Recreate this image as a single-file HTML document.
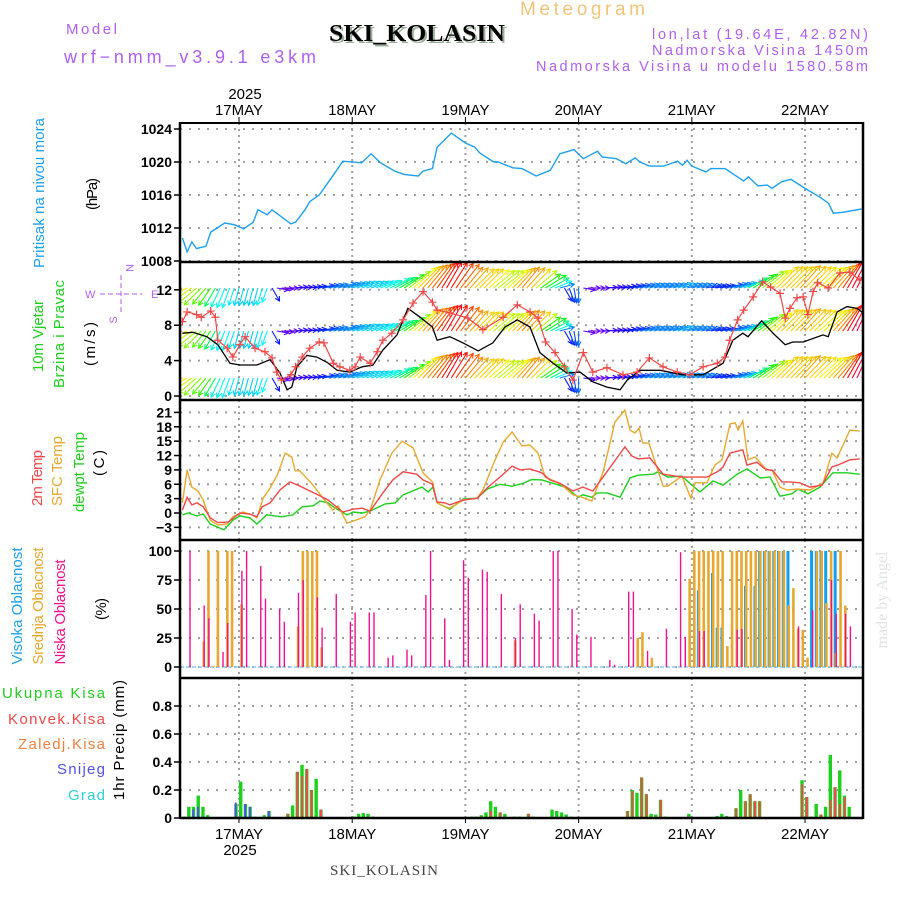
<!DOCTYPE html>
<html><head><meta charset="utf-8"><style>
html,body{margin:0;padding:0;background:#fff;}
svg{display:block;font-family:"Liberation Sans",sans-serif;}
</style></head><body>
<svg id="chart" width="900" height="900" viewBox="0 0 900 900" xmlns="http://www.w3.org/2000/svg">
<defs>
<clipPath id="cpP"><rect x="181" y="123" width="681" height="139"/></clipPath>
<clipPath id="cpW"><rect x="181" y="263" width="681" height="136"/></clipPath>
<clipPath id="cpT"><rect x="181" y="401" width="681" height="138"/></clipPath>
<clipPath id="cpC"><rect x="181" y="541" width="681" height="136"/></clipPath>
<clipPath id="cpR"><rect x="181" y="679" width="681" height="138"/></clipPath>
</defs>
<text x="520" y="15" font-size="19" fill="#f2c47a" textLength="125" lengthAdjust="spacing">Meteogram</text>
<text x="66" y="34" font-size="15" fill="#b060f0" textLength="51" lengthAdjust="spacing">Model</text>
<text x="64" y="63" font-size="18" fill="#b060f0" textLength="252" lengthAdjust="spacing">wrf−nmm_v3.9.1 e3km</text>
<text x="331" y="43" font-size="24" font-weight="bold" fill="#9ab09a" textLength="176" lengthAdjust="spacingAndGlyphs" font-family="Liberation Serif,serif">SKI_KOLASIN</text>
<text x="329" y="41" font-size="24" font-weight="bold" fill="#000" textLength="176" lengthAdjust="spacingAndGlyphs" font-family="Liberation Serif,serif">SKI_KOLASIN</text>
<text x="652" y="39" font-size="14.5" fill="#b060f0" textLength="216" lengthAdjust="spacing">lon,lat (19.64E, 42.82N)</text>
<text x="652" y="55" font-size="14.5" fill="#b060f0" textLength="216" lengthAdjust="spacing">Nadmorska Visina 1450m</text>
<text x="536" y="71" font-size="14.5" fill="#b060f0" textLength="332" lengthAdjust="spacing">Nadmorska Visina u modelu 1580.58m</text>
<text x="245" y="99" font-size="15" fill="#000" text-anchor="middle">2025</text>
<text x="240" y="855" font-size="15" fill="#000" text-anchor="middle">2025</text>
<text x="330" y="875" font-size="15" fill="#444" textLength="108" lengthAdjust="spacing" font-family="Liberation Serif,serif">SKI_KOLASIN</text>
<text transform="translate(887,600) rotate(-90)" font-size="16" fill="#dde5dd" text-anchor="middle" font-family="Liberation Serif,serif">made by Angel</text>
<g font-size="15" text-anchor="middle" lengthAdjust="spacing">
<text transform="translate(44,193) rotate(-90)" fill="#1ea0f0" textLength="150">Pritisak na nivou mora</text>
<text transform="translate(97,194) rotate(-90)" fill="#000" textLength="32">(hPa)</text>
<text transform="translate(43,336) rotate(-90)" fill="#1ed01e" textLength="72">10m Vjetar</text>
<text transform="translate(64,334) rotate(-90)" fill="#1ed01e" textLength="108">Brzina i Pravac</text>
<text transform="translate(95,344) rotate(-90)" fill="#000" textLength="44">(m/s)</text>
<text transform="translate(42,478) rotate(-90)" fill="#f04848" textLength="56">2m Temp</text>
<text transform="translate(62,471) rotate(-90)" fill="#e8a830" textLength="70">SFC Temp</text>
<text transform="translate(84,472) rotate(-90)" fill="#1ed01e" textLength="80">dewpt Temp</text>
<text transform="translate(104,463) rotate(-90)" fill="#000" textLength="26">(C)</text>
<text transform="translate(22,606) rotate(-90)" fill="#1ea0f0" textLength="117">Visoka Oblacnost</text>
<text transform="translate(43,606) rotate(-90)" fill="#e8a830" textLength="117">Srednja Oblacnost</text>
<text transform="translate(65,612) rotate(-90)" fill="#f01090" textLength="105">Niska Oblacnost</text>
<text transform="translate(106,609) rotate(-90)" fill="#000" textLength="22">(%)</text>
<text transform="translate(124,740) rotate(-90)" fill="#000" textLength="120">1hr Precip (mm)</text>
</g>
<g font-size="15" lengthAdjust="spacing">
<text x="2" y="698" fill="#1ed01e" textLength="103">Ukupna  Kisa</text>
<text x="8" y="724" fill="#f04848" textLength="97">Konvek.Kisa</text>
<text x="18" y="749" fill="#f08040" textLength="87">Zaledj.Kisa</text>
<text x="57" y="774" fill="#5050f0" textLength="48">Snijeg</text>
<text x="68" y="800" fill="#30d0d0" textLength="37">Grad</text>
</g>
<g fill="#b060f0" stroke="#b060f0" font-size="11">
<text x="85" y="298" stroke="none">W</text>
<text x="151" y="298" stroke="none">E</text>
<text transform="translate(126,268) rotate(90)" stroke="none" text-anchor="middle">N</text>
<text transform="translate(117,320) rotate(-90)" stroke="none" text-anchor="middle">S</text>
<line x1="100" y1="294" x2="142" y2="294" stroke-dasharray="5,3"/>
<line x1="121" y1="275" x2="121" y2="313" stroke-dasharray="5,3"/>
</g>
<g id="grid"></g>
<g id="marks"></g>
<g id="axes"></g>
</svg>
<script>
// ---------- data ----------
const dayLabels = ["17MAY","18MAY","19MAY","20MAY","21MAY","22MAY"];
const pTicks = [1024,1020,1016,1012,1008];
const wTicks = [12,8,4,0];
const tTicks = [21,18,15,12,9,6,3,0,-3];
const cTicks = [100,75,50,25,0];
const rTicks = [0.8,0.6,0.4,0.2,0];
const rTickLabels = ["0.8","0.6","0.4","0.2","0"];

const pTime = [-12,-11,-10,-9,-7,-6,-3,-1,1,3,4,6,7,11,12,14,15,17,20,22,26,28,30,33,35,38,39,41,42,45,48,50,51,54,55,58,60,63,66,68,71,73,76,77,80,82,84,85,87,90,93,94,95,96,99,100,103,107,108,110,112,113,115,117,120,123,125,126,128,132];
const pVal = [1010.8,1009.1,1010.3,1009.5,1009.8,1011.5,1012.6,1012.4,1011.9,1012.7,1014.2,1013.6,1014.2,1012.5,1012.7,1014.2,1015.2,1016,1018.4,1020.1,1019.9,1021,1019.9,1018.9,1018.5,1018.3,1018.9,1019.2,1021.8,1023.5,1022.3,1021.8,1021.1,1020,1020,1019.3,1019.2,1018.3,1019,1021,1021.5,1020.4,1021.3,1020.6,1020.4,1019.8,1020.5,1020,1019.5,1019.5,1020.1,1019.6,1020.2,1019.5,1018.8,1019.2,1019.2,1017.7,1018.2,1017.1,1017.2,1016.8,1017.6,1017.9,1016.8,1015.8,1015,1013.8,1013.9,1014.3];

const wsTime = [-12,-11,-9,-8,-6,-5,-4.5,-2.5,-1.3,0.2,1.3,3.4,5.5,7,8,9,11,12,13.4,15,17,18,20,21.4,23.5,24.6,25.7,27.8,29.3,30.5,32.4,34.8,36.9,39,41,42,44.7,48.5,51.7,56,59,61.7,63.4,65,67,69,70.8,73,75,78,81.4,84.4,87,89.9,92.9,95.6,98.4,101.4,103,104,105.7,107,109,111,112.7,114.7,115.8,116.8,118.3,119.6,120.6,121.7,122.7,124.9,127.4,129.5,131.6];
const wsVal = [8.4,9.5,9.2,8.9,9.6,8.9,6.3,5.4,4.4,5.8,6.7,5.4,5,4.3,2.7,1.8,2.4,3.3,4.4,5.4,6.1,6,3.7,3.3,2.9,3.3,4.4,3.7,5,6.3,7.1,8.6,10.5,11.8,10.6,9.7,9.4,8.8,7.5,8.9,10.3,9.5,8.8,6.1,4.9,3.3,1.8,4.9,2.7,3.2,2.4,2.7,4.3,3.3,2.7,2.4,3.3,3.7,4.4,6.3,8.6,9.7,11.2,12.9,12.3,11.6,8.8,9.9,11.1,11.2,9.2,11.8,12.8,12.2,13.9,14,13.1];

const blkTime = [-12,-9.8,-6.8,-4.5,-1.9,0.2,3.8,6.6,8.7,10.2,11.2,12.3,14.4,16.5,18.7,20.8,23.5,26.1,28.4,30.5,33.5,35.8,38.4,41,42,44.7,47.5,50.7,53.8,56.4,59,61.7,63.8,66.6,69.5,72.3,75,78,80.8,82.3,85,89.3,94.1,98.4,102.6,104.7,106.8,107.9,110.8,113.2,115.8,117.4,119.6,123.8,124.9,126.8,128.9,131,132.3];
const blkVal = [7.1,7.2,6.7,5.8,3.7,3.5,3.5,4.1,2.6,0.7,1,3.3,4.6,4.4,3.8,2.9,2.7,3.3,3.5,5.2,6.9,9.9,8.9,7.8,6.3,6.7,6,5.1,6,7.8,8.6,7.8,4.9,3.7,2.6,2.7,1.6,1,0.7,1.8,2.9,2.9,2.4,2.4,3.7,6.3,7.1,6.7,8.5,7.1,5.8,6.1,6.1,6.9,6.7,9.5,10.1,9.9,9.4];

// wind arrows, hourly from t=-12
const arrowStart = -12, arrowStep = 1;
const arrowDir = [200,208,215,220,225,230,235,240,245,248,250,252,255,255,255,255,255,252,250,
 300,350,355,0,3,5,5,5,8,10,11,12,14,15,
 15,15,17,18,19,20,20,20,21,22,24,25,28,30,
 34,38,42,45,48,50,52,55,58,60,58,55,52,50,48,45,45,45,42,40,40,40,42,45,48,50,48,45,40,35,32,28,
 22,15,300,290,280,270,
 350,0,0,0,3,5,5,5,8,10,11,12,14,15,15,15,15,15,15,16,18,16,15,15,15,14,12,11,10,11,12,14,15,18,
 20,28,32,35,38,40,42,45,45,45,45,46,48,46,45,44,42,43,45,48,50,55,60,62,65,65];
const arrowSpd = [8,8,8,8,8,7,7,7,7,7,7,6,6,6,6,6,6,6,5,
 5,4,4,4,4,4,4,4,4,4,5,5,5,5,
 6,6,6,6,6,6,6,6,6,6,6,7,7,7,
 8,9,10,10,10,10,10,10,10,10,10,10,10,9,9,9,9,9,9,9,9,9,9,9,9,9,9,9,9,8,8,7,
 6,5,5,5,5,5,
 4,4,4,4,5,5,5,5,5,5,5,5,5,5,5,5,5,5,5,5,5,5,5,5,5,5,5,5,5,5,6,6,6,6,
 7,7,8,8,9,9,9,10,10,10,10,10,10,10,10,10,10,10,10,10,10,10,10,10,10,10];

const t2Time = [-12,-11,-10,-8.9,-7.6,-6.1,-4.5,-2.3,0.2,2.3,3.8,4.9,6.6,8.7,10.8,12.5,14.6,16.7,18.9,20.4,22,24.2,26.1,27.8,30.5,32.6,34.8,37.7,39,41,42,43.7,44.7,47.5,50.5,52.8,55.3,57.9,59.6,61.7,64.2,65.9,68,70.8,72.9,75,78,81.8,83.3,84.6,87.1,89.9,93.9,96.7,99.2,101.4,102.6,104.1,106.8,107.7,109.8,111.5,113.2,115.1,116.8,118.9,121,123.6,125.7,126.9,129.5,131.6];
const t2Val = [0.6,3.3,1.7,2.1,1.3,-1,-2,-1.9,0,-0.2,-0.8,1.3,2.1,4.8,6.5,5.8,4.8,3.8,2.7,1.5,0.2,0.8,1,0.4,4.2,6.9,8.6,8.1,6.9,6,2.3,2.1,1.7,2.7,3.1,5.4,7.5,9.8,9,9.2,8.4,6.9,6.2,4.6,5.4,4.6,8.6,13.8,11.9,11.3,11.5,8.1,7.5,7.5,7.5,8.6,9.6,12.5,13.2,10,10.6,9.2,8.8,6.5,6.5,6.3,5.4,5.8,9.6,10,11.1,11.3];

const sfcTime = [-12,-11,-10,-8.7,-7.6,-6.1,-4.5,-2.5,-1.3,0.8,2.8,3.8,5.1,6.6,8.1,9.8,11.2,11.9,12.9,15.7,17.8,19.9,21,22.9,24.2,26.7,27.8,29.9,32.4,34.6,36.9,39,41,42,43.7,44.7,47.5,50.5,51.7,54.3,56,57.9,60,61.7,63.4,64.9,68,70.8,72.7,74.8,77.2,79.7,81.8,82.9,83.9,84.8,85.6,86.9,89.9,90.9,93.9,95.8,96.7,99.2,100.9,102.4,104.1,105.2,105.8,106.8,107.9,109.4,111.9,113,114.7,116.2,118.3,121,123.8,125.7,126.8,129.5,131.6];
const sfcVal = [2.1,9,5.4,4.6,2.7,-1.5,-2.5,-2.3,-0.8,0.2,-0.4,-1,3.1,5.2,7.9,12.5,11.7,8.8,8.8,5.8,3.1,0.6,1.5,-2.1,-1.7,-0.8,0.6,6.9,12.5,15,13.6,8.4,6.5,2.1,1.3,1,2.7,3.1,4.8,11.1,14.8,16.9,14,14.2,12.5,7.5,6.2,3.8,3.3,2.5,8.6,19,21.5,17.3,16.7,17.7,14.6,14.6,5.6,5.6,7.7,3.1,6.3,6.3,10,11.1,18.6,18.8,17.3,19.2,11.1,11.7,9,9,5.4,4.8,5,4.8,6.2,12.5,11.5,17.3,17.1];

const dewTime = [-12,-10.8,-8.9,-7.6,-6.1,-3.2,-1.3,0.2,2.3,3.8,5.9,9.1,11.4,13.4,15.7,17.2,18.9,20.4,22.9,24.2,26.1,27.8,31,33.1,34.8,38.8,40.1,41.1,42,43.7,44.7,47.5,50.5,52.6,55.3,57.9,60.2,62.1,64.2,66.6,69.1,71.9,72.9,74.8,75.9,78,80.8,82.9,84.6,87.8,88.8,90.9,93.9,95.6,97.7,100.5,102.6,105.6,107.7,110.5,112.6,114.7,117.2,118.5,120.6,123.2,125.9,128.9,131.6];
const dewVal = [-0.4,0,-0.6,-0.2,-2.3,-3.5,-1.5,-0.6,-1,-2.3,-0.4,-0.8,-0.4,1.3,1.5,2.5,2.1,1,-0.4,0.2,0,0.4,1.9,2.1,3.8,5.4,4.4,5.4,2.1,1.3,0.8,2.9,3.1,5,6,5.6,6.2,7,6.9,6.2,5.4,3.3,3.8,3.3,4.2,4.2,3.3,7.3,7.9,8.1,8.6,7.5,7.7,6.2,4.4,6.7,5.8,8.1,9.2,7.3,7.5,3.5,4,5,4,5.4,8.4,8.4,8.1];

const lowTime = [-11,-8,-7,-4,-3,0,1,4,5,8,9,12,13,16,17,20,23,24,27,28,31,32,35,36,39,40,43,44,47,48,51,52,55,58,59,62,63,66,67,70,71,74,78,79,82,83,86,90,93,94,97,98,105,106,118,121,125,126,128,129];
const lowVal = [100,53,42,13,38,83,100,87,59,50,39,64,75,60,34,63,39,47,47,47,8,10,15,10,62,100,42,6,92,77,84,82,63,25,54,46,40,100,100,50,28,26,6,2,65,65,14,33,99,26,31,31,32,33,35,49,75,46,46,35];
const midTime = [-8,-7,-6,-5,-3,-2,0,12,13,14,15,16,17,58,84,85,87,95,96,97,98,99,100,101,102,103,104,105,106,107,108,109,110,111,112,113,114,115,116,117,118,119,120,122,123,124,125,126,127,128];
const midVal = [22,100,1,100,100,100,54,35,100,100,100,100,17,23,25,30,8,76,100,100,100,100,100,100,100,18,100,100,100,100,100,100,100,100,100,100,100,100,53,68,33,32,8,100,100,55,100,12,100,53];
const highTime = [97,100,101,102,107,109,110,111,112,113,114,115,116,121,122,123,124,126];
const highVal = [66,81,34,34,70,70,100,100,100,100,100,100,100,100,100,100,100,100];

const totTime = [-12,-11,-10,-9,-8,-7,-1,0,1,2,3,5,6,10,11,12,13,14,15,16,17,18,24,25,26,27,28,49,50,51,52,53,54,55,56,58,59,61,62,66,67,68,69,70,82,83,84,85,86,87,88,89,90,95,101,102,103,105,106,107,108,109,110,119,120,121,122,123,124,125,126,127,128,129];
const totVal = [0.01,0.08,0.08,0.16,0.08,0.02,0.1,0.26,0.1,0.08,0.01,0.02,0.05,0.03,0.09,0.33,0.38,0.35,0.2,0.28,0.06,0.005,0.01,0.03,0.035,0.03,0.01,0.01,0.01,0.02,0.04,0.12,0.08,0.04,0.03,0.01,0.01,0.03,0.01,0.06,0.05,0.04,0.025,0.01,0.05,0.2,0.18,0.29,0.17,0.03,0.025,0.13,0.01,0.03,0.015,0.03,0.015,0.07,0.2,0.12,0.17,0.12,0.12,0.27,0.15,0.01,0.1,0.025,0.08,0.45,0.22,0.34,0.16,0.08];
const convTime = [10,12,13,14,15,17,53,55,61,82,83,85,86,89,105,107,108,109,110,119,120,123,125,126,127,128];
const convVal = [0.03,0.33,0.3,0.35,0.2,0.06,0.05,0.04,0.03,0.05,0.19,0.29,0.17,0.13,0.07,0.12,0.17,0.12,0.12,0.24,0.15,0.025,0.13,0.22,0.1,0.15];
const snowTime = [-10,-9,-1,1,2,6];
const snowVal = [0.06,0.08,0.11,0.1,0.08,0.05];

// ---------- scales ----------
const X0 = 180, X1 = 863;
const xS = t => 239 + t * 4.717;
const yP = p => 129 + (1024 - p) * 8.25;
const yW = v => 396 - v * 8.85;
const yT = v => 513 - v * 4.79;
const yC = v => 667 - v * 1.16;
const yR = v => 818 - v * 140;
const panels = [[123,262],[262,400],[400,540],[540,678],[678,818]];

const NS = "http://www.w3.org/2000/svg";
const grid = document.getElementById('grid');
const marks = document.getElementById('marks');
const axes = document.getElementById('axes');
function mk(tag, attrs, parent) {
  const e = document.createElementNS(NS, tag);
  for (const k in attrs) e.setAttribute(k, attrs[k]);
  parent.appendChild(e);
  return e;
}

dayLabels.forEach((d, i) => {
  const x = xS(24 * i);
  panels.forEach(([a, b]) => {
    const g = mk('line', {x1: x, x2: x, y1: a, y2: b, stroke: '#a0a0a0', 'stroke-width': 2, 'stroke-dasharray': '2,4'}, grid);
    
    
  });
  const tt = mk('text', {x: x, y: 115, 'font-size': 15, 'text-anchor': 'middle', fill: '#000'}, axes);
  tt.textContent = d;
  
  
  const bt = mk('text', {x: x, y: 839, 'font-size': 15, 'text-anchor': 'middle', fill: '#000'}, axes);
  bt.textContent = d;
  
  
  mk('line', {x1: x, x2: x, y1: 117, y2: 123, stroke: '#000'}, axes);
  mk('line', {x1: x, x2: x, y1: 818, y2: 823, stroke: '#000'}, axes);
});

function yAxis(ticks, labels, yf, name) {
  ticks.forEach((v, i) => {
    const y = yf(v);
    const g = mk('line', {x1: X0, x2: X1, y1: y, y2: y, stroke: '#a0a0a0', 'stroke-width': 2, 'stroke-dasharray': '2,7'}, grid);
    
    
    mk('line', {x1: X0 - 6, x2: X0, y1: y, y2: y, stroke: '#000', 'stroke-width': 1.5}, axes);
    const t = mk('text', {x: 172, y: y + 5, 'font-size': 14, 'font-weight': 'bold', 'text-anchor': 'end', fill: '#000'}, axes);
    t.textContent = labels[i];
    
    
  });
}
yAxis(pTicks, pTicks.map(String), yP, 'pressure');
yAxis(wTicks, wTicks.map(String), yW, 'wind');
yAxis(tTicks, tTicks.map(v => v < 0 ? '−' + (-v) : String(v)), yT, 'temp');
yAxis(cTicks, cTicks.map(String), yC, 'cloud');
yAxis(rTicks, rTickLabels, yR, 'precip');

mk('line', {x1: X0, x2: X0, y1: 122, y2: 819, stroke: '#000', 'stroke-width': 2.5}, axes);
mk('line', {x1: X1, x2: X1, y1: 122, y2: 819, stroke: '#000', 'stroke-width': 2.5}, axes);
[123, 262, 400, 540, 678, 818].forEach(y => {
  mk('line', {x1: X0, x2: X1, y1: y, y2: y, stroke: '#000', 'stroke-width': y === 123 ? 2 : 2.5}, axes);
});

function polyline(ts, vs, yf, color, clip, name, w) {
  const pts = ts.map((t, i) => xS(t).toFixed(1) + ',' + yf(vs[i]).toFixed(1)).join(' ');
  const p = mk('polyline', {points: pts, fill: 'none', stroke: color, 'stroke-width': w || 1.3, 'clip-path': 'url(#' + clip + ')'}, marks);
  
  
  return p;
}

polyline(pTime, pVal, yP, '#1ea0f0', 'cpP', 'pressure-line', 1.4);

function hueFor(a) {
  const A = [0,10,15,20,28,35,42,48,55,62,70,90,200,215,235,245,255,270,290,350,360];
  const H = [265,235,210,190,150,110,60,40,15,-10,-30,-40,40,70,110,170,190,215,230,260,265];
  for (let i = 0; i < A.length - 1; i++) {
    if (a >= A[i] && a <= A[i + 1]) {
      const f = (a - A[i]) / (A[i + 1] - A[i]);
      return (H[i] + f * (H[i + 1] - H[i]) + 360) % 360;
    }
  }
  return 265;
}
const rowBase = [288, 331, 378];
const rowScale = [3.0, 3.0, 3.0];
const windG = mk('g', {'clip-path': 'url(#cpW)'}, marks);


rowBase.forEach((yb, r) => {
  arrowDir.forEach((d, i) => {
    const t = arrowStart + i * arrowStep;
    const L = arrowSpd[i] * rowScale[r];
    const rad = d * Math.PI / 180;
    const x1 = xS(t), y1 = yb;
    const x2 = x1 + L * Math.cos(rad), y2 = y1 - L * Math.sin(rad);
    const col = 'hsl(' + hueFor(d).toFixed(0) + ',95%,50%)';
    const g = mk('g', {stroke: col, 'stroke-width': 1.1, fill: 'none'}, windG);
    
    
    mk('line', {x1: x1, y1: y1, x2: x2, y2: y2}, g);
    const h = 5, ha = 0.5;
    mk('polyline', {points: (x2 - h * Math.cos(rad - ha)).toFixed(1) + ',' + (y2 + h * Math.sin(rad - ha)).toFixed(1) + ' ' + x2.toFixed(1) + ',' + y2.toFixed(1) + ' ' + (x2 - h * Math.cos(rad + ha)).toFixed(1) + ',' + (y2 + h * Math.sin(rad + ha)).toFixed(1)}, g);
  });
});
polyline(blkTime, blkVal, yW, '#000', 'cpW', 'wind-gust-line', 1.3);
polyline(wsTime, wsVal, yW, '#f04848', 'cpW', 'wind-speed-line', 1.2);
const crossG = mk('g', {stroke: '#f04848', 'stroke-width': 1.2, 'clip-path': 'url(#cpW)'}, marks);


wsTime.forEach((t, i) => {
  const x = xS(t), y = yW(wsVal[i]);
  mk('path', {d: 'M' + (x - 4) + ',' + y + 'h8M' + x + ',' + (y - 4) + 'v8'}, crossG);
});

polyline(dewTime, dewVal, yT, '#1ed01e', 'cpT', 'dewpoint-line', 1.4);
polyline(sfcTime, sfcVal, yT, '#e8a830', 'cpT', 'sfc-temp-line', 1.4);
polyline(t2Time, t2Val, yT, '#f04848', 'cpT', 'temp-2m-line', 1.4);

const zl = mk('line', {x1: X0, x2: X1, y1: yC(0), y2: yC(0), stroke: '#8cc8f0', 'stroke-width': 1.5, 'stroke-dasharray': '4,2'}, marks);


function bars(ts, vs, yf, color, off, w, clip, name) {
  ts.forEach((t, i) => {
    const y = yf(vs[i]), y0 = yf(0);
    const b = mk('rect', {x: xS(t) + off, y: y, width: w, height: Math.max(0, y0 - y), fill: color, 'clip-path': 'url(#' + clip + ')'}, marks);
    
    
  });
}
bars(highTime, highVal, yC, '#10a0f0', 0.3, 3, 'cpC', 'cloud-high-bar');
bars(midTime, midVal, yC, '#e8a830', 1.2, 2.6, 'cpC', 'cloud-mid-bar');
bars(lowTime, lowVal, yC, '#f01090', 2.2, 1.4, 'cpC', 'cloud-low-bar');

bars(totTime, totVal, yR, '#1ed01e', 0, 3.4, 'cpR', 'precip-total-bar');
bars(convTime, convVal, yR, '#f04848', 0.8, 2, 'cpR', 'precip-convective-bar');
bars(snowTime, snowVal, yR, '#5050f0', 0.4, 2, 'cpR', 'precip-snow-bar');
const bl = mk('line', {x1: X0, x2: X1, y1: yR(0), y2: yR(0), stroke: '#000', 'stroke-width': 2}, marks);


</script>
</body></html>
